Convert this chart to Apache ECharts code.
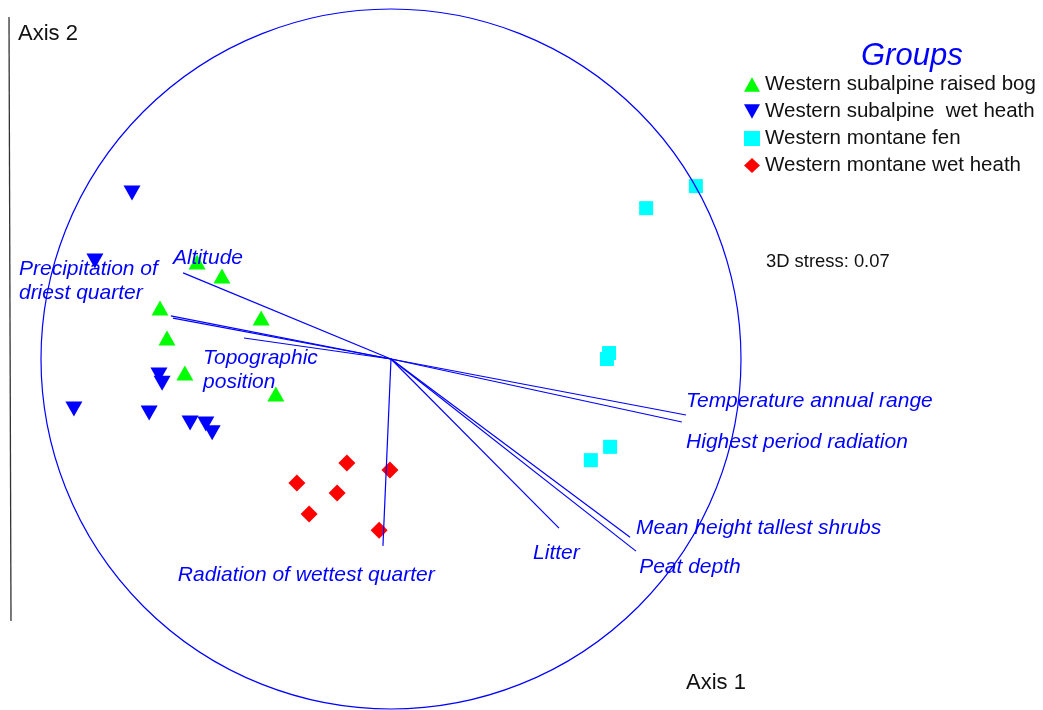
<!DOCTYPE html>
<html>
<head>
<meta charset="utf-8">
<script src="https://cdn.jsdelivr.net/npm/echarts@6/dist/echarts.min.js"></script>
<style>
html,body{margin:0;padding:0;background:#fff;}
#chart{width:1043px;height:710px;}
</style>
</head>
<body>
<div id="chart"></div>
<script>
// ---- data (ordination units; circle radius = 1) ----
var groupNames = ['Western subalpine raised bog', 'Western subalpine  wet heath', 'Western montane fen', 'Western montane wet heath'];
var raisedBog = [[-0.554,0.277],[-0.483,0.237],[-0.660,0.146],[-0.371,0.117],[-0.640,0.060],[-0.589,-0.040],[-0.329,-0.100]];
var subalpineWetHeath = [[-0.740,0.474],[-0.846,0.280],[-0.663,-0.046],[-0.654,-0.069],[-0.906,-0.143],[-0.691,-0.154],[-0.574,-0.183],[-0.529,-0.186],[-0.511,-0.211]];
var montaneFen = [[0.871,0.494],[0.729,0.431],[0.623,0.017],[0.617,0.000],[0.626,-0.251],[0.571,-0.289]];
var montaneWetHeath = [[-0.126,-0.297],[-0.003,-0.317],[-0.269,-0.354],[-0.154,-0.383],[-0.234,-0.443],[-0.034,-0.489]];

// vector end points
var vectorNames = ['Altitude','Precipitation of driest quarter','(overlapping vector)','Topographic position','Temperature annual range','Highest period radiation','Radiation of wettest quarter','Litter','Mean height tallest shrubs','Peat depth'];
var vectorEnds = [[-0.594,0.246],[-0.629,0.123],[-0.623,0.117],[-0.420,0.060],[0.843,-0.160],[0.831,-0.180],[-0.023,-0.534],[0.480,-0.483],[0.683,-0.509],[0.700,-0.549]];

// vector labels and their anchor positions
var vectorLabels = ['Altitude','Precipitation of\ndriest quarter','Topographic\nposition','Temperature annual range','Highest period radiation','Radiation of wettest quarter','Litter','Mean height tallest shrubs','Peat depth'];
var vectorLabelPos = [[-0.623,0.289],[-1.063,0.221],[-0.537,-0.031],[0.843,-0.121],[0.843,-0.239],[-0.609,-0.619],[0.406,-0.554],[0.700,-0.484],[0.709,-0.594]];

var stressText = '3D stress: 0.07';
var origin = [0, 0];

var downTriangle = 'path://M0,0 L10,0 L5,9 Z';
var upTriangle = 'path://M5,0 L10,9 L0,9 Z';

var chart = echarts.init(document.getElementById('chart'), null, {renderer:'canvas'});
var font = '"Liberation Sans", Arial, sans-serif';

var option = {
  backgroundColor: '#ffffff',
  animation: false,
  textStyle: {fontFamily: font},
  grid: {left: 41, top: 9, width: 700, height: 700},
  xAxis: {type:'value', min:-1, max:1, show:false},
  yAxis: {type:'value', min:-1, max:1, show:false},
  title: [
    {text:'Groups', left:861, top:41, padding:0, textStyle:{fontFamily:font, fontStyle:'italic', fontWeight:'normal', fontSize:31, color:'#0000ff'}},
    {text:'Axis 2', left:18, top:23, padding:0, textStyle:{fontFamily:font, fontWeight:'normal', fontSize:22, color:'#111'}},
    {text:'Axis 1', left:686, top:672, padding:0, textStyle:{fontFamily:font, fontWeight:'normal', fontSize:22, color:'#111'}},
    {text:stressText, left:766, top:253, padding:0, textStyle:{fontFamily:font, fontWeight:'normal', fontSize:18.4, color:'#111'}}
  ],
  legend: {
    orient:'vertical', left:744, top:74, padding:0, itemWidth:16, itemHeight:15, itemGap:6,
    data: groupNames, textStyle:{fontFamily:font, fontSize:20.5, color:'#111'},
    selectedMode:false
  },
  graphic: [
    {type:'line', shape:{x1:9, y1:17, x2:11, y2:621}, style:{stroke:'#333', lineWidth:1.3}}
  ],
  series: [
    {name:groupNames[0], type:'scatter', data:raisedBog, symbol:upTriangle, symbolSize:[17,15], itemStyle:{color:'#00ff00', opacity:1}, z:2},
    {name:groupNames[1], type:'scatter', data:subalpineWetHeath, symbol:downTriangle, symbolSize:[17,15], itemStyle:{color:'#0000ff', opacity:1}, z:2},
    {name:groupNames[2], type:'scatter', data:montaneFen, symbol:'rect', symbolSize:14, itemStyle:{color:'#00ffff', opacity:1}, z:2},
    {name:groupNames[3], type:'scatter', data:montaneWetHeath, symbol:'diamond', symbolSize:17, itemStyle:{color:'#ff0000', opacity:1}, z:2},
    {
      type:'custom', z:3, silent:true, data:[[origin[0], origin[1], 1]],
      renderItem: function(params, api){
        var c = api.coord([api.value(0), api.value(1)]);
        var r = api.size([api.value(2), 0])[0];
        return {type:'circle', shape:{cx:c[0], cy:c[1], r:r}, style:{fill:null, stroke:'#0000ff', lineWidth:1.2}};
      }
    },
    {
      type:'lines', coordinateSystem:'cartesian2d', z:4, silent:true,
      lineStyle:{color:'#0000ff', width:1.2, opacity:1},
      data: vectorEnds.map(function(e){ return {coords:[origin, e]}; })
    },
    {
      type:'scatter', z:5, silent:true, symbolSize:0, clip:false,
      itemStyle:{opacity:1},
      data: vectorLabelPos.map(function(p, i){ return {value:p, name:vectorLabels[i]}; }),
      label:{show:true, position:'right', distance:0, formatter:'{b}', fontFamily:font, fontStyle:'italic', fontSize:21, lineHeight:24, color:'#0000ff'}
    }
  ]
};
chart.setOption(option);
</script>
</body>
</html>
